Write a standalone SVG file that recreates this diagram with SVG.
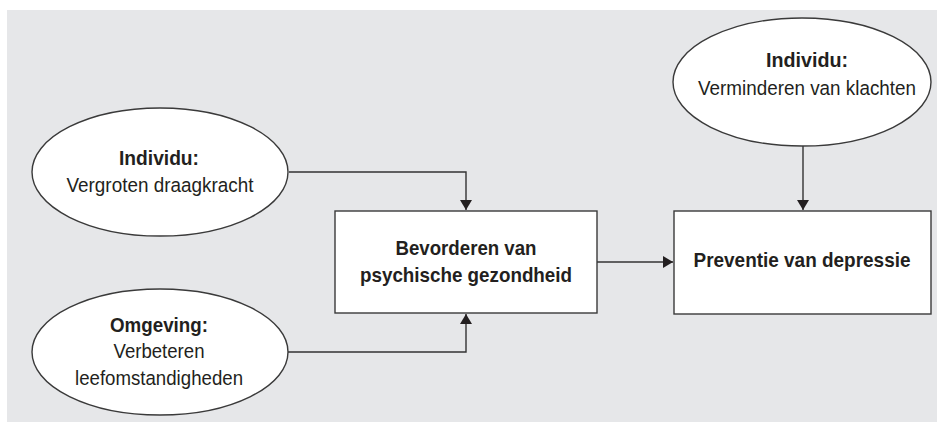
<svg xmlns="http://www.w3.org/2000/svg" width="937" height="422" viewBox="0 0 937 422">
<defs>
<style>
.bg{fill:#e6e7e9;}
.node{fill:#ffffff;stroke:#3a3a3a;stroke-width:1.4;}
.conn{fill:none;stroke:#333333;stroke-width:1.4;}
text{font-family:"Liberation Sans",Arial,sans-serif;font-size:20.5px;fill:#231f20;text-anchor:middle;}
.b{font-weight:bold;}
</style>
<marker id="arrow" markerUnits="userSpaceOnUse" markerWidth="12" markerHeight="12" viewBox="0 0 10 12" refX="10" refY="6" orient="auto">
<path d="M0,0 L10,6 L0,12 z" fill="#231f20"/>
</marker>
</defs>
<rect class="bg" x="7" y="10" width="930" height="412"/>
<g id="connectors">
<polyline class="conn" points="289,172 466,172 466,210" marker-end="url(#arrow)"/>
<polyline class="conn" points="288,352 466,352 466,314" marker-end="url(#arrow)"/>
<line class="conn" x1="597" y1="262" x2="673" y2="262" marker-end="url(#arrow)"/>
<line class="conn" x1="803" y1="146" x2="803" y2="210" marker-end="url(#arrow)"/>
</g>
<g id="individu-draagkracht">
<ellipse class="node" cx="160" cy="172" rx="128" ry="64"/>
<text class="b" x="159" y="165" textLength="80" lengthAdjust="spacingAndGlyphs">Individu:</text>
<text x="160" y="192" textLength="187" lengthAdjust="spacingAndGlyphs">Vergroten draagkracht</text>
</g>
<g id="omgeving">
<ellipse class="node" cx="160" cy="352" rx="128" ry="63"/>
<text class="b" x="159" y="332" textLength="98" lengthAdjust="spacingAndGlyphs">Omgeving:</text>
<text x="159" y="358" textLength="91" lengthAdjust="spacingAndGlyphs">Verbeteren</text>
<text x="159" y="385" textLength="168" lengthAdjust="spacingAndGlyphs">leefomstandigheden</text>
</g>
<g id="individu-klachten">
<ellipse class="node" cx="802" cy="82" rx="129" ry="64"/>
<text class="b" x="807" y="67" textLength="82" lengthAdjust="spacingAndGlyphs">Individu:</text>
<text x="807" y="95" textLength="218" lengthAdjust="spacingAndGlyphs">Verminderen van klachten</text>
</g>
<g id="bevorderen">
<rect class="node" x="335" y="211" width="262" height="102"/>
<text class="b" x="466" y="255" textLength="141" lengthAdjust="spacingAndGlyphs">Bevorderen van</text>
<text class="b" x="466" y="282" textLength="212" lengthAdjust="spacingAndGlyphs">psychische gezondheid</text>
</g>
<g id="preventie">
<rect class="node" x="674" y="211" width="257" height="103"/>
<text class="b" x="802" y="267" textLength="217" lengthAdjust="spacingAndGlyphs">Preventie van depressie</text>
</g>
</svg>
